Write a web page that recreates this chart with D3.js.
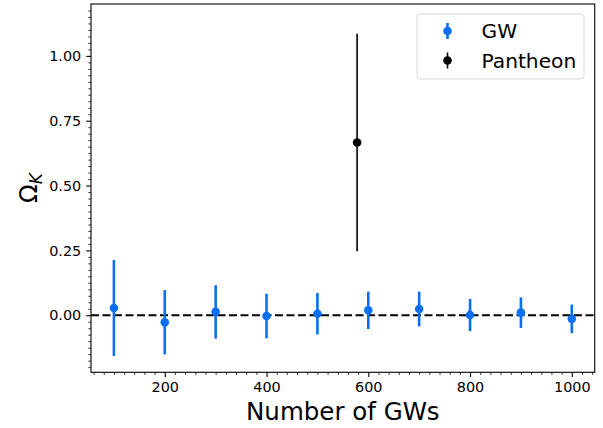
<!DOCTYPE html>
<html>
<head>
<meta charset="utf-8">
<script src="https://cdn.jsdelivr.net/npm/d3@7"></script>
<style>
    body { margin: 0; background: #fff; }
    svg { display: block; font-family: "DejaVu Sans", sans-serif; }
</style>
</head>
<body>
<div id="chart"></div>
<script>
// GW forecasts: number of events, central value and symmetric error
const gwN = [100, 200, 300, 400, 500, 600, 700, 800, 900, 1000];
const gwOmega = [0.028, -0.027, 0.013, -0.003, 0.006, 0.019, 0.024, 0.001, 0.010, -0.014];
const gwErr = [0.185, 0.124, 0.103, 0.086, 0.080, 0.072, 0.067, 0.062, 0.059, 0.055];

// Pantheon constraint, placed at an arbitrary x
const pantheonN = [578];
const pantheonOmega = [0.666];
const pantheonErr = [0.419];

const xTicks = [200, 400, 600, 800, 1000];
const yTicks = [0.00, 0.25, 0.50, 0.75, 1.00];
const legendLabels = ['GW', 'Pantheon'];

const W = 603, H = 428;
const _MARGIN = { top: 4, right: 8.3, bottom: 55.7, left: 91 };
const GW_COLOR = '#0a6ff0';

let svg = d3.select('#chart').append('svg')
    .attr('width', W)
    .attr('height', H);

let plotW = W - _MARGIN.left - _MARGIN.right;
let plotH = H - _MARGIN.top - _MARGIN.bottom;

let x = d3.scaleLinear().domain([55, 1045]).range([0, plotW]);
let y = d3.scaleLinear().domain([-0.22, 1.2]).range([plotH, 0]);

let g = svg.append('g')
    .attr('transform', 'translate(' + _MARGIN.left + ',' + _MARGIN.top + ')');

// minor ticks first so major ones draw over them
let xMinor = d3.range(60, 1045, 20).filter(v => xTicks.indexOf(v) < 0);
let yMinor = d3.range(-0.2, 1.2, 0.025).map(v => Math.round(v * 1000) / 1000)
    .filter(v => !yTicks.some(t => Math.abs(t - v) < 1e-6));

g.append('g')
    .attr('transform', 'translate(0,' + plotH + ')')
    .call(d3.axisBottom(x).tickValues(xMinor).tickSize(2.6).tickFormat(''))
    .call(a => a.select('.domain').remove())
    .call(a => a.selectAll('line').attr('stroke-width', 0.8));

g.append('g')
    .call(d3.axisLeft(y).tickValues(yMinor).tickSize(2.6).tickFormat(''))
    .call(a => a.select('.domain').remove())
    .call(a => a.selectAll('line').attr('stroke-width', 0.8));

let gX = g.append('g')
    .attr('transform', 'translate(0,' + plotH + ')')
    .call(d3.axisBottom(x).tickValues(xTicks).tickSize(4.8).tickPadding(5).tickFormat(d3.format('d')));
gX.select('.domain').remove();
gX.selectAll('line').attr('stroke-width', 1.1);
gX.selectAll('text').attr('font-size', 14.4).attr('font-family', 'DejaVu Sans').attr('fill', '#000');

let gY = g.append('g')
    .call(d3.axisLeft(y).tickValues(yTicks).tickSize(4.8).tickPadding(5).tickFormat(d3.format('.2f')));
gY.select('.domain').remove();
gY.selectAll('line').attr('stroke-width', 1.1);
gY.selectAll('text').attr('font-size', 14.4).attr('font-family', 'DejaVu Sans').attr('fill', '#000');

// zero line
g.append('line')
    .attr('x1', 0).attr('x2', plotW)
    .attr('y1', y(0)).attr('y2', y(0))
    .attr('stroke', '#000')
    .attr('stroke-width', 2.2)
    .attr('stroke-dasharray', '8,3.5');

function drawErrorbars(xs, ys, es, color, lw) {
    let grp = g.append('g');
    xs.forEach((d, i) => {
        grp.append('line')
            .attr('x1', x(d)).attr('x2', x(d))
            .attr('y1', y(ys[i] - es[i])).attr('y2', y(ys[i] + es[i]))
            .attr('stroke', color)
            .attr('stroke-width', lw);
        grp.append('circle')
            .attr('cx', x(d)).attr('cy', y(ys[i]))
            .attr('r', 4.3)
            .attr('fill', color);
    });
}

drawErrorbars(gwN, gwOmega, gwErr, GW_COLOR, 2.6);
drawErrorbars(pantheonN, pantheonOmega, pantheonErr, '#000', 1.6);

// frame
g.append('rect')
    .attr('x', 0).attr('y', 0)
    .attr('width', plotW).attr('height', plotH)
    .attr('fill', 'none')
    .attr('stroke', '#000')
    .attr('stroke-width', 1.1);

// legend
let leg = svg.append('g').attr('transform', 'translate(417,14)');
leg.append('rect')
    .attr('width', 167).attr('height', 65)
    .attr('rx', 3)
    .attr('fill', '#fff')
    .attr('fill-opacity', 0.8)
    .attr('stroke', '#d9d9d9')
    .attr('stroke-width', 1);
let legColors = [GW_COLOR, '#000'];
let legWidths = [2.6, 1.6];
legendLabels.forEach((lab, i) => {
    let cy = 17 + i * 29.5;
    leg.append('line')
        .attr('x1', 30.5).attr('x2', 30.5)
        .attr('y1', cy - 8).attr('y2', cy + 8)
        .attr('stroke', legColors[i])
        .attr('stroke-width', legWidths[i]);
    leg.append('circle')
        .attr('cx', 30.5).attr('cy', cy)
        .attr('r', 4.3)
        .attr('fill', legColors[i]);
    leg.append('text')
        .attr('x', 64.5).attr('y', cy + 7.3)
        .attr('font-size', 20.2)
        .text(lab);
});

// axis labels
svg.append('text')
    .attr('x', _MARGIN.left + plotW / 2)
    .attr('y', 420)
    .attr('text-anchor', 'middle')
    .attr('font-size', 24.5)
    .text('Number of GWs');

let yl = svg.append('text')
    .attr('transform', 'translate(37,' + (_MARGIN.top + plotH / 2) + ') rotate(-90)')
    .attr('text-anchor', 'middle')
    .attr('font-size', 24.5);
yl.append('tspan').text('Ω');
yl.append('tspan')
    .attr('font-size', 17)
    .attr('font-style', 'italic')
    .attr('dy', 4.5)
    .text('K');
</script>
</body>
</html>
